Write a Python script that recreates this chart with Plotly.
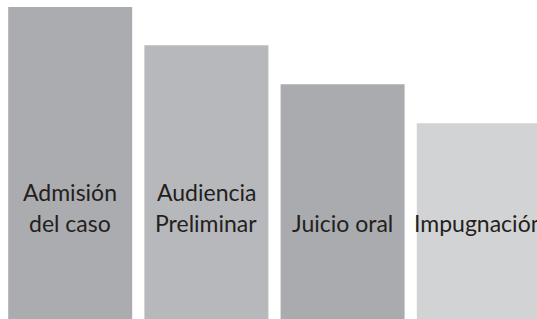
import plotly.graph_objects as go

categories = ["Admisión del caso", "Audiencia Preliminar", "Juicio oral", "Impugnación"]
label_lines = [["Admisión", "del caso"], ["Audiencia", "Preliminar"], ["Juicio oral"], ["Impugnación"]]
values = [8.0, 7.02, 6.02, 5.02]
colors = ["#abacaf", "#b7b8bb", "#aaabae", "#d2d3d5"]

fig = go.Figure()
fig.add_trace(go.Bar(
    x=categories, y=values,
    marker=dict(color=colors, line=dict(width=0)),
    hoverinfo="skip",
))

annotations = []
line_y = {1: [0.302], 2: [0.398, 0.302]}
for cat, lines in zip(categories, label_lines):
    ys = line_y[len(lines)]
    for txt, yy in zip(lines, ys):
        annotations.append(dict(
            x=cat, xref="x", y=yy, yref="paper",
            text=txt, showarrow=False, xanchor="center", yanchor="middle",
            font=dict(family="Lato", size=23, color="#231f20"),
        ))

fig.update_layout(
    width=537, height=319,
    margin=dict(l=0, r=0, t=0, b=0),
    paper_bgcolor="white", plot_bgcolor="white",
    bargap=0.0896,
    showlegend=False,
    annotations=annotations,
    xaxis=dict(range=[-0.5154, 3.4273], visible=False, fixedrange=True),
    yaxis=dict(range=[0, 8.179], visible=False, fixedrange=True),
)

fig.write_html(
    "out.html",
    config={"displayModeBar": False},
    post_script="document.body.style.margin='0';document.body.style.overflow='hidden';",
)
